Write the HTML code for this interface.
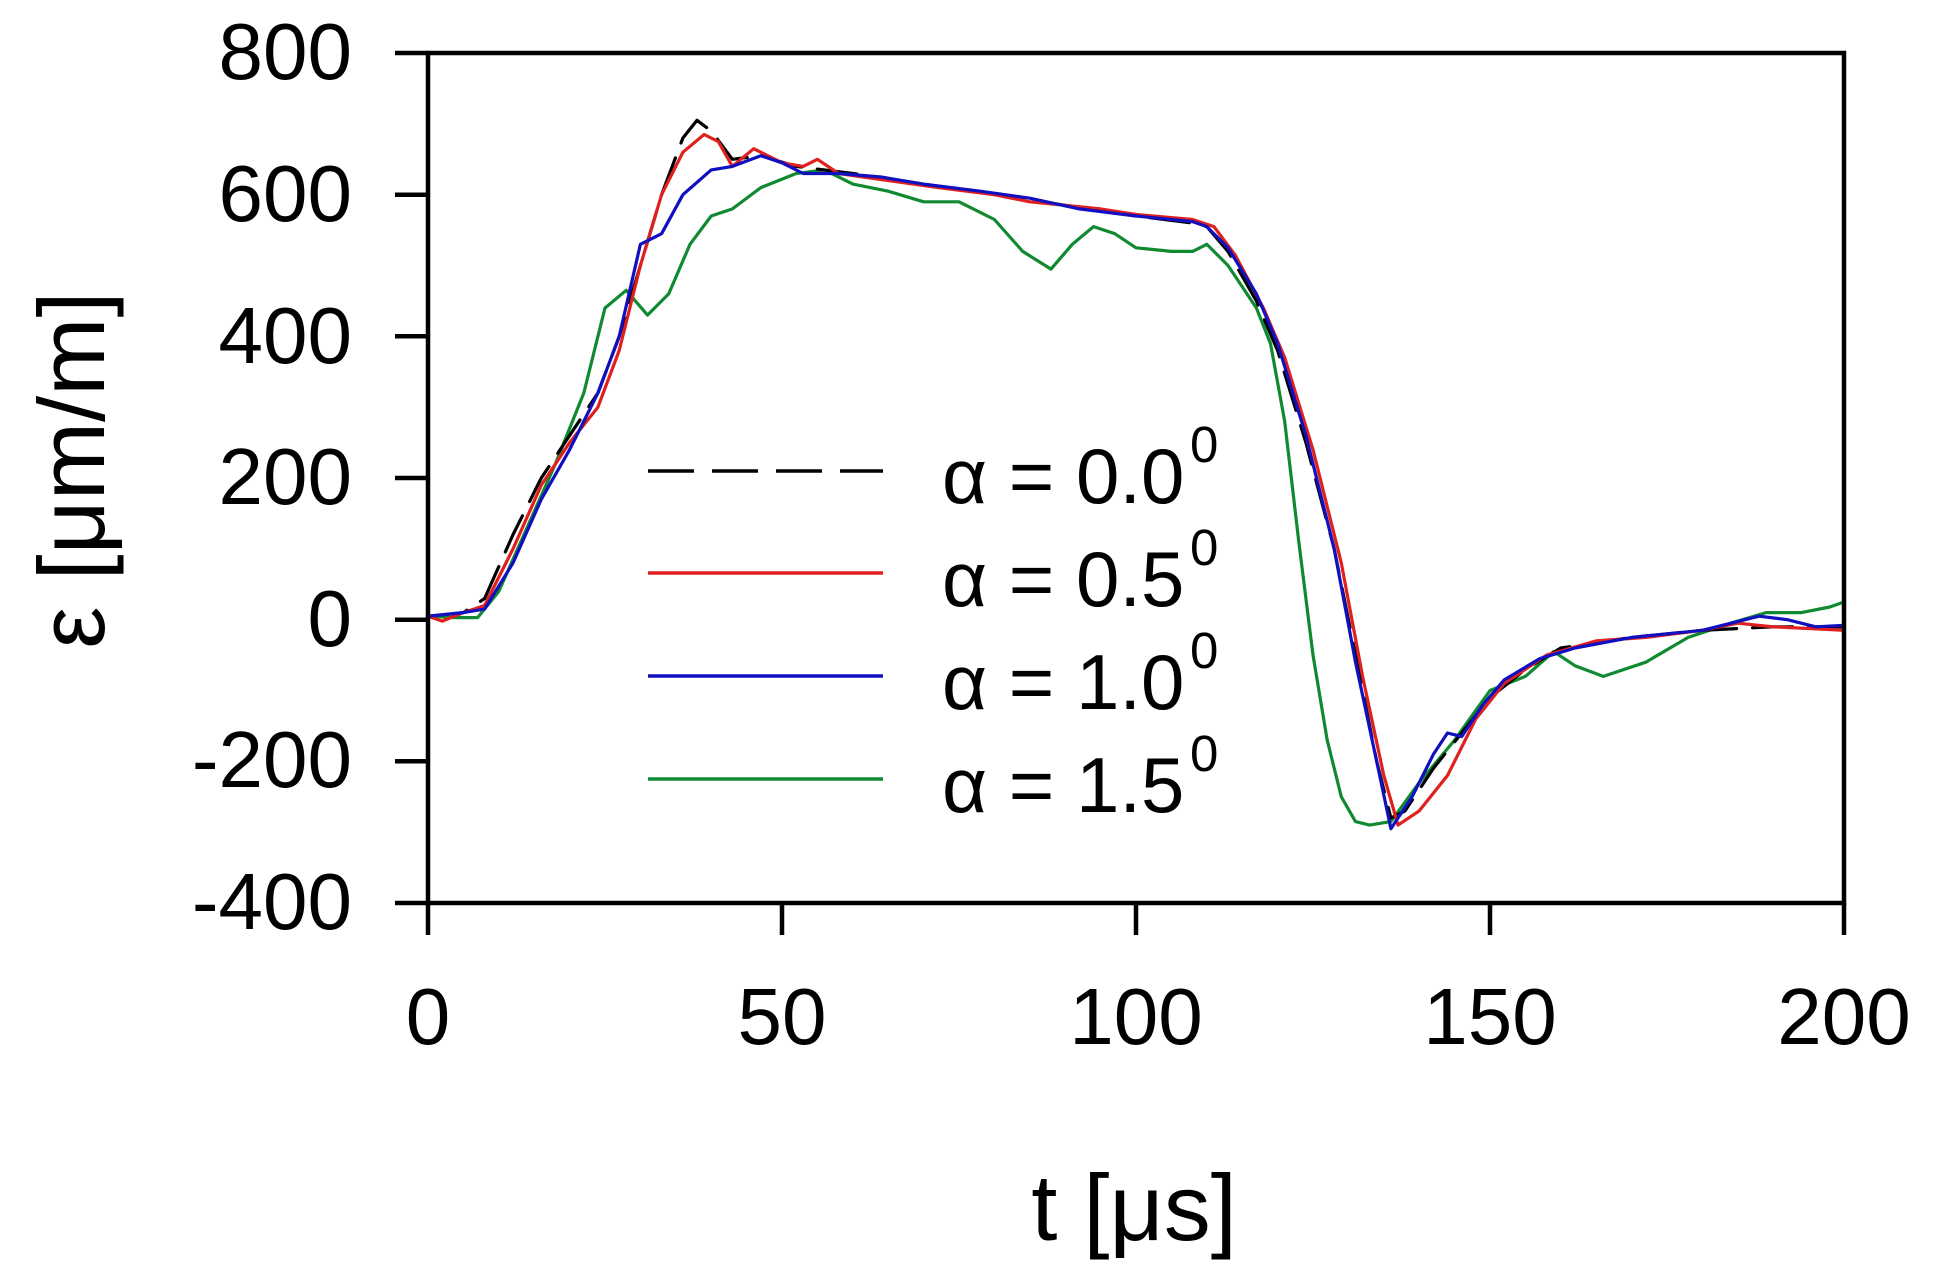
<!DOCTYPE html>
<html><head><meta charset="utf-8"><style>
html,body{margin:0;padding:0;background:#fff;}
svg{display:block;}
text{font-family:"Liberation Sans",Arial,sans-serif;fill:#000;}
</style></head><body>
<svg id="s" width="1935" height="1283" viewBox="0 0 1935 1283" xmlns="http://www.w3.org/2000/svg">
<rect width="1935" height="1283" fill="#fff"/>
<g id="series" fill="none" stroke-width="3.2" stroke-linejoin="round" stroke-linecap="round"></g>
<g stroke="#000" stroke-width="4.5" fill="none">
<rect x="428" y="53" width="1416" height="850"/>
<path d="M395 53H428M395 194.7H428M395 336.3H428M395 478H428M395 619.7H428M395 761.3H428M395 903H428"/>
<path d="M428 903V935M782 903V935M1136 903V935M1490 903V935M1844 903V935"/>
</g>
<g font-size="80" text-anchor="end">
<text x="352" y="79">800</text>
<text x="352" y="221">600</text>
<text x="352" y="363">400</text>
<text x="352" y="504">200</text>
<text x="352" y="646">0</text>
<text x="352" y="787">-200</text>
<text x="352" y="929">-400</text>
</g>
<g font-size="80" text-anchor="middle">
<text x="428" y="1044">0</text>
<text x="782" y="1044">50</text>
<text x="1136" y="1044">100</text>
<text x="1490" y="1044">150</text>
<text x="1844" y="1044">200</text>
</g>
<g font-size="94" text-anchor="middle">
<text x="1134" y="1240">t [μs]</text>
<text transform="translate(104,470) rotate(-90)">ε [μm/m]</text>
</g>
<g stroke-width="3.5">
<line x1="648" y1="471" x2="883" y2="471" stroke="#000" stroke-dasharray="46,18"/>
<line x1="648" y1="573" x2="883" y2="573" stroke="#e0201f"/>
<line x1="648" y1="676" x2="883" y2="676" stroke="#1010c0"/>
<line x1="648" y1="779" x2="883" y2="779" stroke="#108a30"/>
</g>
<g font-size="78">
<text x="942" y="503">α = 0.0</text>
<text x="942" y="606">α = 0.5</text>
<text x="942" y="709">α = 1.0</text>
<text x="942" y="812">α = 1.5</text>
</g>
<g font-size="51">
<text x="1190" y="462">0</text>
<text x="1190" y="565">0</text>
<text x="1190" y="668">0</text>
<text x="1190" y="771">0</text>
</g>
</svg>
<script>
var X=function(t){return 428+t*7.08;},Y=function(e){return 619.7-e*0.70833;};
var black=[[0,5],[5,10],[8,30],[12,120],[16,200],[20,260],[24,320],[27,400],[30,500],[33,600],[36,680],[38,705],[40,690],[43,650],[47,655],[52,640],[60,630],[70,615],[80,600],[90,585],[100,570],[108,560],[110,555],[113,520],[117,450],[120,380],[124,250],[128,100],[131,-50],[134,-200],[136,-280],[138,-270],[142,-210],[146,-160],[150,-110],[155,-70],[160,-40],[170,-25],[180,-15],[190,-10],[200,-10]];
var red=[[0,5],[2,-2],[5,10],[8,20],[12,100],[16,190],[20,250],[24,300],[27,380],[30,500],[33,600],[36,660],[39,685],[41,675],[43,640],[46,665],[50,645],[53,640],[55,650],[58,630],[65,620],[72,610],[80,600],[85,590],[90,585],[95,580],[100,572],[108,565],[111,555],[114,515],[118,440],[121,370],[125,240],[129,80],[132,-80],[135,-220],[137,-290],[140,-270],[144,-220],[148,-140],[152,-90],[158,-50],[165,-30],[172,-25],[180,-15],[185,-5],[190,-10],[200,-15]];
var blue=[[0,5],[5,10],[8,15],[12,80],[16,170],[20,240],[24,320],[27,400],[30,530],[33,545],[36,600],[40,635],[43,640],[47,655],[50,645],[53,630],[58,630],[64,625],[70,615],[78,605],[85,595],[92,580],[100,570],[108,562],[110,555],[113,525],[117,460],[120,390],[124,260],[128,100],[131,-60],[134,-200],[136,-295],[139,-250],[142,-190],[144,-160],[146,-165],[149,-120],[152,-85],[157,-55],[162,-40],[170,-25],[180,-15],[188,5],[192,0],[196,-10],[200,-8]];
var green=[[0,5],[4,3],[7,3],[10,40],[14,130],[18,220],[22,320],[25,440],[28,465],[31,430],[34,460],[37,530],[40,570],[43,580],[47,610],[52,630],[56,635],[60,615],[65,605],[70,590],[75,590],[80,565],[84,520],[88,495],[91,530],[94,555],[97,545],[100,525],[105,520],[108,520],[110,530],[113,500],[117,440],[119,390],[121,280],[123,110],[125,-50],[127,-170],[129,-250],[131,-285],[133,-290],[136,-285],[140,-230],[145,-170],[150,-100],[155,-80],[159,-45],[162,-65],[166,-80],[172,-60],[178,-25],[184,-5],[189,10],[194,10],[198,18],[200,25]];
function path(d){var s='';for(var i=0;i<d.length;i++){var p=d[i];s+=(i?'L':'M')+X(p[0]).toFixed(1)+' '+Y(p[1]).toFixed(1);}return s;}
var g=document.getElementById('series');
function add(d,c,da){var p=document.createElementNS('http://www.w3.org/2000/svg','path');p.setAttribute('d',path(d));p.setAttribute('stroke',c);if(da)p.setAttribute('stroke-dasharray',da);g.appendChild(p);}
add(green,'#108a30');add(black,'#000','40,16');add(red,'#e0201f');add(blue,'#1010c0');
</script>
</body></html>
